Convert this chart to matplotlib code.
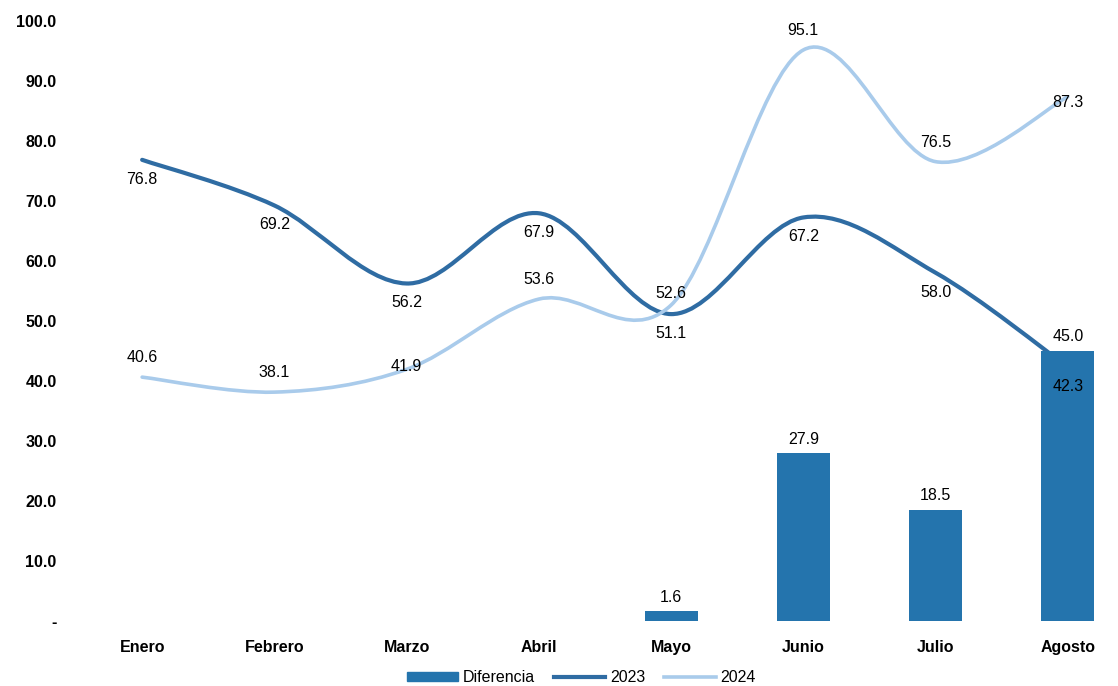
import matplotlib
matplotlib.use("Agg")
import matplotlib.pyplot as plt
from matplotlib.path import Path
from matplotlib.patches import PathPatch, Patch
from matplotlib.lines import Line2D
import numpy as np

plt.rcParams['font.family'] = ['Liberation Sans', 'DejaVu Sans']

# datos
meses = ['Enero', 'Febrero', 'Marzo', 'Abril', 'Mayo', 'Junio', 'Julio', 'Agosto']
v2023 = [76.8, 69.2, 56.2, 67.9, 51.1, 67.2, 58.0, 42.3]
v2024 = [40.6, 38.1, 41.9, 53.6, 52.6, 95.1, 76.5, 87.3]
dif_meses = ['Mayo', 'Junio', 'Julio', 'Agosto']
diferencia = [1.6, 27.9, 18.5, 45.0]

c_bar = '#2474ad'
c_23 = '#2f6ca3'
c_24 = '#a9cbeb'


def curva_suave(ax, x, y, **kw):
    # linea suavizada tipo Excel (bezier)
    x = np.asarray(x, float)
    y = np.asarray(y, float)
    pts = np.column_stack([x, y])
    verts = [pts[0]]
    codes = [Path.MOVETO]
    n = len(pts)
    for i in range(n - 1):
        p0 = pts[max(i - 1, 0)]
        p1 = pts[i]
        p2 = pts[i + 1]
        p3 = pts[min(i + 2, n - 1)]
        c1 = p1 + (p2 - p0) / 6.0
        c2 = p2 - (p3 - p1) / 6.0
        verts += [c1, c2, p2]
        codes += [Path.CURVE4] * 3
    patch = PathPatch(Path(verts, codes), facecolor='none', **kw)
    ax.add_patch(patch)


fig = plt.figure(figsize=(11.18, 6.86), dpi=100)
ax = fig.add_axes([0.068, 0.095, 0.932, 0.875])

x = np.arange(len(meses))
xd = [meses.index(m) for m in dif_meses]

curva_suave(ax, x, v2023, edgecolor=c_23, linewidth=3.0, zorder=2, capstyle='round')
curva_suave(ax, x, v2024, edgecolor=c_24, linewidth=2.6, zorder=2, capstyle='round')
ax.bar(xd, diferencia, width=0.4, color=c_bar, zorder=3)

fs = 11.5
for i, v in enumerate(v2023):
    ax.annotate(f'{v:.1f}', (x[i], v), xytext=(0, -14), textcoords='offset points',
                ha='center', va='center', fontsize=fs, color='black', zorder=4)
for i, v in enumerate(v2024):
    off = 14
    if meses[i] == 'Agosto':
        off = -4
    elif meses[i] == 'Marzo':
        off = 2
    elif meses[i] == 'Mayo':
        off = 8
    ax.annotate(f'{v:.1f}', (x[i], v), xytext=(0, off), textcoords='offset points',
                ha='center', va='center', fontsize=fs, color='black', zorder=4)
for xi, v in zip(xd, diferencia):
    ax.annotate(f'{v:.1f}', (xi, v), xytext=(0, 10), textcoords='offset points',
                ha='center', va='center', fontsize=fs, color='black', zorder=4)

ax.set_xlim(-0.5, 7.38)
ax.set_ylim(0, 100)
ax.set_xticks(x)
ax.set_xticklabels(meses, fontsize=fs, fontweight='bold')
ax.set_yticks(np.arange(0, 101, 10))
ax.set_yticklabels(['-'] + [f'{t:.1f}' for t in range(10, 101, 10)], fontsize=fs, fontweight='bold')
ax.tick_params(length=0, pad=14)
ax.tick_params(axis='y', pad=14)
for s in ax.spines.values():
    s.set_visible(False)

handles = [Patch(color=c_bar, label='Diferencia'),
           Line2D([], [], color=c_23, lw=3.0, label='2023'),
           Line2D([], [], color=c_24, lw=2.6, label='2024')]
fig.legend(handles=handles, loc='lower center', bbox_to_anchor=(0.52, -0.02), ncol=3,
           frameon=False, fontsize=fs, handlelength=3.2, handleheight=0.5,
           columnspacing=1.2, handletextpad=0.3)

fig.savefig('out.png', dpi=100)
